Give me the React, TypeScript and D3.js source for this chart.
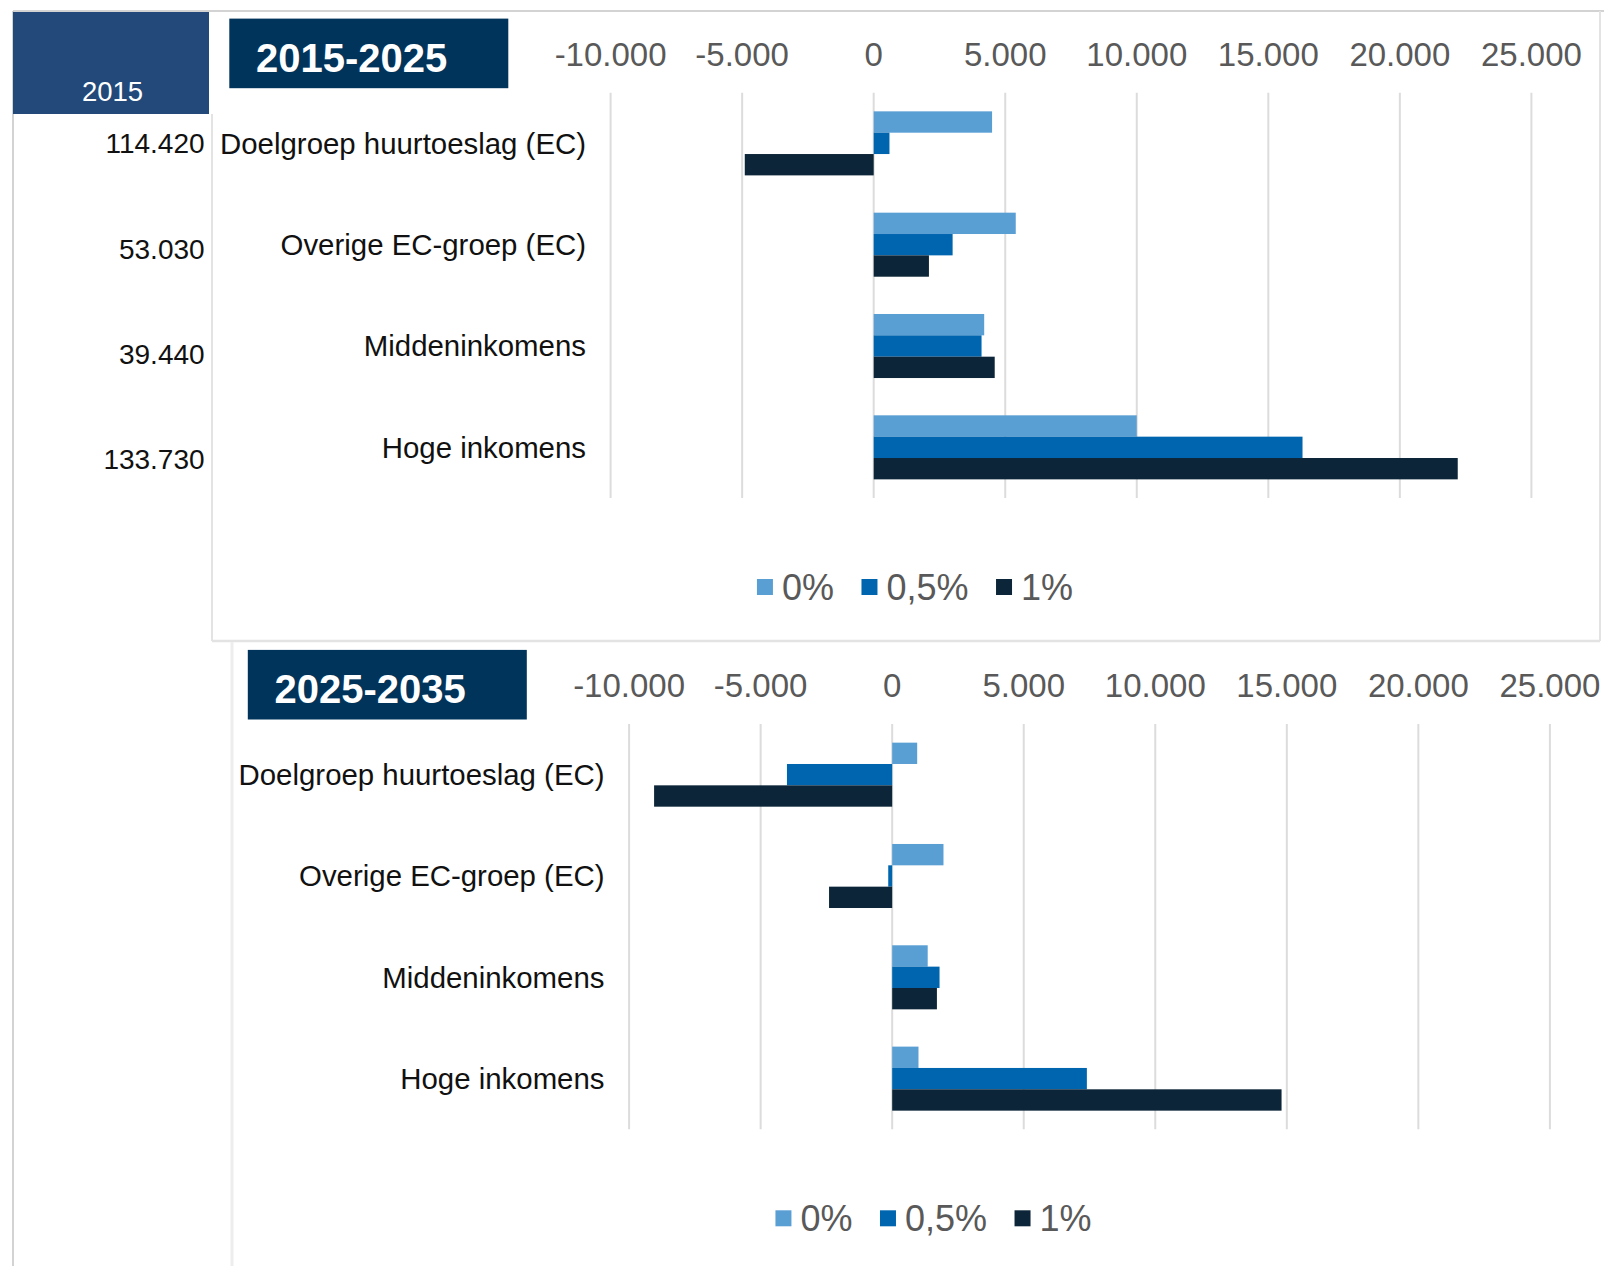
import React from "react";
import * as d3 from "d3";

// ---------- data ----------
const categories = [
  "Doelgroep huurtoeslag (EC)",
  "Overige EC-groep (EC)",
  "Middeninkomens",
  "Hoge inkomens",
];
const seriesNames = ["0%", "0,5%", "1%"];
const seriesColors = ["#5A9FD4", "#0065AF", "#0D2538"];

const period1Rate0 = [4500, 5400, 4200, 10000];
const period1Rate05 = [600, 3000, 4100, 16300];
const period1Rate1 = [-4900, 2100, 4600, 22200];

const period2Rate0 = [950, 1950, 1350, 1000];
const period2Rate05 = [-4000, -150, 1800, 7400];
const period2Rate1 = [-9050, -2400, 1700, 14800];

const baseYearLabel = "2015";
const baseYearValues = ["114.420", "53.030", "39.440", "133.730"];

const panelTitles = ["2015-2025", "2025-2035"];
const tickValues = [-10000, -5000, 0, 5000, 10000, 15000, 20000, 25000];

const panels = [
  { title: panelTitles[0], series: [period1Rate0, period1Rate05, period1Rate1] },
  { title: panelTitles[1], series: [period2Rate0, period2Rate05, period2Rate1] },
];

// ---------- formatting ----------
const nl = d3.formatLocale({
  decimal: ",",
  thousands: ".",
  grouping: [3],
  currency: ["€", ""],
  minus: "-",
});
const fmt = nl.format(",");

const FONT = "'Liberation Sans', Arial, Helvetica, sans-serif";

function measure(text: string, size: number, weight = "normal") {
  const c = document.createElement("canvas");
  const ctx = c.getContext("2d");
  if (!ctx) return text.length * size * 0.55;
  ctx.font = `${weight} ${size}px ${FONT}`;
  return ctx.measureText(text).width;
}

function Panel({ title, series }: { title: string; series: number[][] }) {
  const x = d3.scaleLinear().domain([-10000, 25000]).range([610.6, 1531.4]);
  const y = d3
    .scaleBand<string>()
    .domain(categories)
    .range([92.7, 498])
    .paddingInner(0.368)
    .paddingOuter(0.184);
  const ys = d3
    .scaleBand<string>()
    .domain(seriesNames)
    .range([0, y.bandwidth()])
    .padding(0);

  // legend layout
  const legendFont = 36;
  const sq = 16;
  const gapText = 9;
  const gapItem = 27.5;
  const widths = seriesNames.map((s) => measure(s, legendFont));
  const total =
    widths.reduce((a, w) => a + sq + gapText + w, 0) + gapItem * (seriesNames.length - 1);
  const legendCenter = 915;
  let cursor = legendCenter - total / 2;
  const legendItems = seriesNames.map((s, i) => {
    const item = { name: s, color: seriesColors[i], x: cursor, w: widths[i] };
    cursor += sq + gapText + widths[i] + gapItem;
    return item;
  });

  return (
    <g>
      {/* title box */}
      <rect x={229.3} y={18.6} width={279} height={69.6} fill="#00345B" />
      <text
        x={256}
        y={71.5}
        fontSize={40}
        fontWeight="bold"
        fill="#ffffff"
        fontFamily={FONT}
      >
        {title}
      </text>

      {/* tick labels */}
      {tickValues.map((t) => (
        <text
          key={"t" + t}
          x={x(t)}
          y={66}
          textAnchor="middle"
          fontSize={33}
          fill="#595959"
          fontFamily={FONT}
        >
          {fmt(t)}
        </text>
      ))}

      {/* gridlines */}
      {tickValues.map((t) => (
        <line
          key={"g" + t}
          x1={x(t)}
          x2={x(t)}
          y1={y.range()[0]}
          y2={y.range()[1]}
          stroke="#DCDCDC"
          strokeWidth={2}
        />
      ))}

      {/* bars */}
      {categories.map((c, ci) => (
        <g key={c} transform={`translate(0,${y(c)})`}>
          {seriesNames.map((s, si) => {
            const v = series[si][ci];
            const x0 = x(Math.min(0, v));
            const x1 = x(Math.max(0, v));
            return (
              <rect
                key={s}
                x={x0}
                y={ys(s)}
                width={Math.max(0.5, x1 - x0)}
                height={ys.bandwidth()}
                fill={seriesColors[si]}
              />
            );
          })}
        </g>
      ))}

      {/* category labels */}
      {categories.map((c) => (
        <text
          key={"l" + c}
          x={586}
          y={(y(c) as number) + y.bandwidth() / 2}
          dy="0.35em"
          textAnchor="end"
          fontSize={29.4}
          fill="#111111"
          fontFamily={FONT}
        >
          {c}
        </text>
      ))}

      {/* legend */}
      {legendItems.map((it) => (
        <g key={"lg" + it.name}>
          <rect x={it.x} y={579} width={sq} height={sq} fill={it.color} />
          <text
            x={it.x + sq + gapText}
            y={600}
            fontSize={legendFont}
            fill="#595959"
            fontFamily={FONT}
          >
            {it.name}
          </text>
        </g>
      ))}
    </g>
  );
}

export default function App() {
  const rowY = d3
    .scalePoint<number>()
    .domain(d3.range(baseYearValues.length))
    .range([143.5, 459.5]);

  return (
    <div style={{ position: "absolute", left: 0, top: 0 }}>
      <svg width={1604} height={1266} style={{ display: "block", background: "#ffffff" }}>
        <rect x={0} y={0} width={1604} height={1266} fill="#ffffff" />

        {/* outer frame */}
        <line x1={13} y1={11} x2={1604} y2={11} stroke="#C4C4C4" strokeWidth={1.5} />
        <line x1={13} y1={11} x2={13} y2={1266} stroke="#C4C4C4" strokeWidth={1.5} />

        {/* top panel frame */}
        <line x1={212} y1={114} x2={212} y2={641} stroke="#E3E3E3" strokeWidth={2} />
        <line x1={212} y1={641} x2={1600} y2={641} stroke="#E3E3E3" strokeWidth={2.5} />
        <line x1={1600} y1={11} x2={1600} y2={641} stroke="#E3E3E3" strokeWidth={2} />

        {/* bottom panel frame */}
        <line x1={232} y1={642} x2={232} y2={1266} stroke="#EDEDED" strokeWidth={3} />

        {/* base year column */}
        <rect x={13} y={12} width={196} height={102} fill="#22497A" />
        <text
          x={112.5}
          y={101}
          textAnchor="middle"
          fontSize={27.5}
          fill="#ffffff"
          fontFamily={FONT}
        >
          {baseYearLabel}
        </text>
        {baseYearValues.map((v, i) => (
          <text
            key={"b" + i}
            x={204.6}
            y={rowY(i)}
            dy="0.35em"
            textAnchor="end"
            fontSize={28}
            fill="#111111"
            fontFamily={FONT}
          >
            {v}
          </text>
        ))}

        <Panel title={panels[0].title} series={panels[0].series} />
        <g transform="translate(18.5,631.3)">
          <Panel title={panels[1].title} series={panels[1].series} />
        </g>
      </svg>
    </div>
  );
}
